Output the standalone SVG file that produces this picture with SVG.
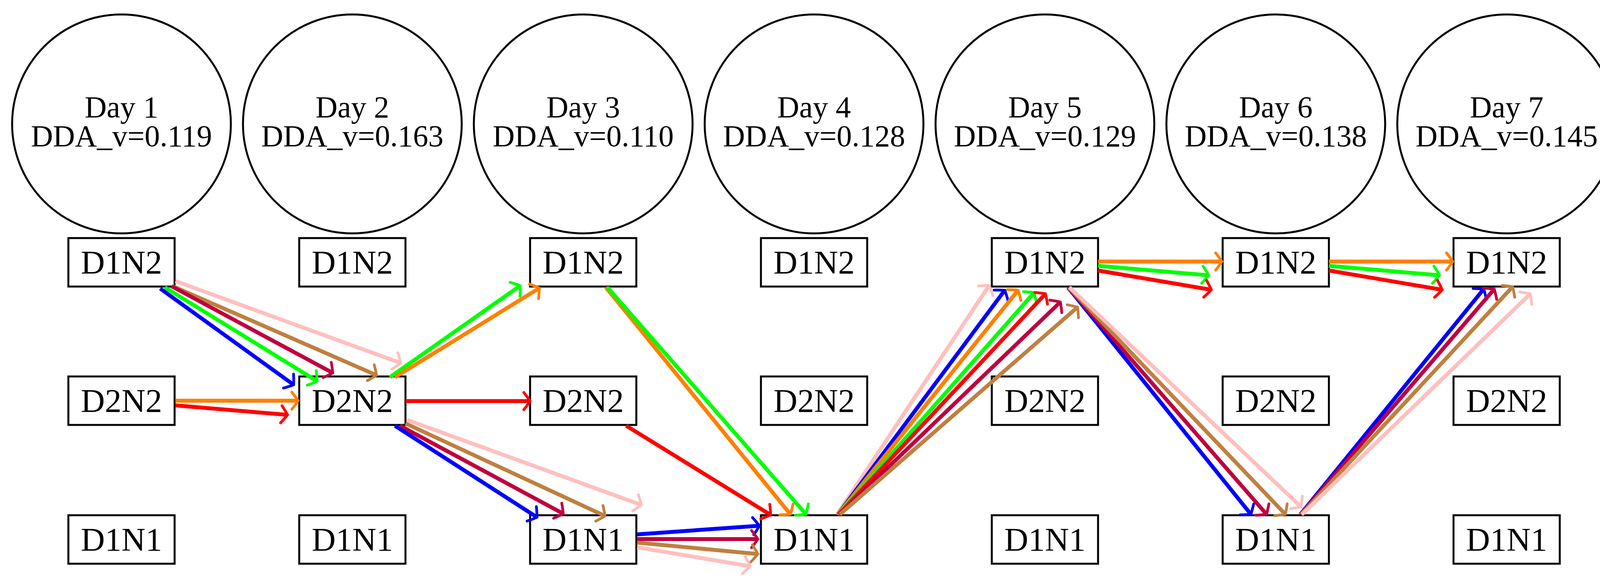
<svg xmlns="http://www.w3.org/2000/svg" width="4173" height="1499" viewBox="0 0 4173 1499">
<style>
.c{fill:#fff;stroke:#000;stroke-width:5}
.b{fill:#fff;stroke:#000;stroke-width:5}
.t{font-family:"Liberation Serif",serif;font-size:78px;text-anchor:middle;fill:#000}
.n{font-family:"Liberation Serif",serif;font-size:85px;text-anchor:middle;fill:#000}
#edges line{stroke-width:10;fill:none}
.mk{fill:none;stroke-width:7;stroke-linecap:round}
</style>
<defs>
<marker id="aBl" markerUnits="userSpaceOnUse" orient="auto" overflow="visible" markerWidth="40" markerHeight="50"><path class="mk" stroke="#0000ff" d="M-14,-22 Q-3,-8 2,0 Q-3,8 -14,22"/></marker>
<marker id="aGr" markerUnits="userSpaceOnUse" orient="auto" overflow="visible" markerWidth="40" markerHeight="50"><path class="mk" stroke="#00ff00" d="M-14,-22 Q-3,-8 2,0 Q-3,8 -14,22"/></marker>
<marker id="aOr" markerUnits="userSpaceOnUse" orient="auto" overflow="visible" markerWidth="40" markerHeight="50"><path class="mk" stroke="#ff8000" d="M-14,-22 Q-3,-8 2,0 Q-3,8 -14,22"/></marker>
<marker id="aRe" markerUnits="userSpaceOnUse" orient="auto" overflow="visible" markerWidth="40" markerHeight="50"><path class="mk" stroke="#ff0000" d="M-14,-22 Q-3,-8 2,0 Q-3,8 -14,22"/></marker>
<marker id="aPu" markerUnits="userSpaceOnUse" orient="auto" overflow="visible" markerWidth="40" markerHeight="50"><path class="mk" stroke="#bf0040" d="M-14,-22 Q-3,-8 2,0 Q-3,8 -14,22"/></marker>
<marker id="aBr" markerUnits="userSpaceOnUse" orient="auto" overflow="visible" markerWidth="40" markerHeight="50"><path class="mk" stroke="#bf8040" d="M-14,-22 Q-3,-8 2,0 Q-3,8 -14,22"/></marker>
<marker id="aPi" markerUnits="userSpaceOnUse" orient="auto" overflow="visible" markerWidth="40" markerHeight="50"><path class="mk" stroke="#ffbfbf" d="M-14,-22 Q-3,-8 2,0 Q-3,8 -14,22"/></marker>
</defs>
<rect width="4173" height="1499" fill="#fff"/>
<g id="days">
<g id="day1"><circle class="c" cx="311" cy="317" r="280"/><text class="t" x="311" y="300">Day 1</text><text class="t" x="311" y="374">DDA_v=0.119</text></g>
<g id="day2"><circle class="c" cx="902" cy="317" r="280"/><text class="t" x="902" y="300">Day 2</text><text class="t" x="902" y="374">DDA_v=0.163</text></g>
<g id="day3"><circle class="c" cx="1493" cy="317" r="280"/><text class="t" x="1493" y="300">Day 3</text><text class="t" x="1493" y="374">DDA_v=0.110</text></g>
<g id="day4"><circle class="c" cx="2084" cy="317" r="280"/><text class="t" x="2084" y="300">Day 4</text><text class="t" x="2084" y="374">DDA_v=0.128</text></g>
<g id="day5"><circle class="c" cx="2675" cy="317" r="280"/><text class="t" x="2675" y="300">Day 5</text><text class="t" x="2675" y="374">DDA_v=0.129</text></g>
<g id="day6"><circle class="c" cx="3266" cy="317" r="280"/><text class="t" x="3266" y="300">Day 6</text><text class="t" x="3266" y="374">DDA_v=0.138</text></g>
<g id="day7"><circle class="c" cx="3857" cy="317" r="280"/><text class="t" x="3857" y="300">Day 7</text><text class="t" x="3857" y="374">DDA_v=0.145</text></g>
</g>
<g id="nodes">
<g id="c1a"><rect class="b" x="175" y="609" width="272" height="124"/><text class="n" x="311" y="700">D1N2</text></g>
<g id="c1b"><rect class="b" x="175" y="963" width="272" height="124"/><text class="n" x="311" y="1054">D2N2</text></g>
<g id="c1c"><rect class="b" x="175" y="1318" width="272" height="124"/><text class="n" x="311" y="1409">D1N1</text></g>
<g id="c2a"><rect class="b" x="766" y="609" width="272" height="124"/><text class="n" x="902" y="700">D1N2</text></g>
<g id="c2b"><rect class="b" x="766" y="963" width="272" height="124"/><text class="n" x="902" y="1054">D2N2</text></g>
<g id="c2c"><rect class="b" x="766" y="1318" width="272" height="124"/><text class="n" x="902" y="1409">D1N1</text></g>
<g id="c3a"><rect class="b" x="1357" y="609" width="272" height="124"/><text class="n" x="1493" y="700">D1N2</text></g>
<g id="c3b"><rect class="b" x="1357" y="963" width="272" height="124"/><text class="n" x="1493" y="1054">D2N2</text></g>
<g id="c3c"><rect class="b" x="1357" y="1318" width="272" height="124"/><text class="n" x="1493" y="1409">D1N1</text></g>
<g id="c4a"><rect class="b" x="1948" y="609" width="272" height="124"/><text class="n" x="2084" y="700">D1N2</text></g>
<g id="c4b"><rect class="b" x="1948" y="963" width="272" height="124"/><text class="n" x="2084" y="1054">D2N2</text></g>
<g id="c4c"><rect class="b" x="1948" y="1318" width="272" height="124"/><text class="n" x="2084" y="1409">D1N1</text></g>
<g id="c5a"><rect class="b" x="2539" y="609" width="272" height="124"/><text class="n" x="2675" y="700">D1N2</text></g>
<g id="c5b"><rect class="b" x="2539" y="963" width="272" height="124"/><text class="n" x="2675" y="1054">D2N2</text></g>
<g id="c5c"><rect class="b" x="2539" y="1318" width="272" height="124"/><text class="n" x="2675" y="1409">D1N1</text></g>
<g id="c6a"><rect class="b" x="3130" y="609" width="272" height="124"/><text class="n" x="3266" y="700">D1N2</text></g>
<g id="c6b"><rect class="b" x="3130" y="963" width="272" height="124"/><text class="n" x="3266" y="1054">D2N2</text></g>
<g id="c6c"><rect class="b" x="3130" y="1318" width="272" height="124"/><text class="n" x="3266" y="1409">D1N1</text></g>
<g id="c7a"><rect class="b" x="3721" y="609" width="272" height="124"/><text class="n" x="3857" y="700">D1N2</text></g>
<g id="c7b"><rect class="b" x="3721" y="963" width="272" height="124"/><text class="n" x="3857" y="1054">D2N2</text></g>
<g id="c7c"><rect class="b" x="3721" y="1318" width="272" height="124"/><text class="n" x="3857" y="1409">D1N1</text></g>
</g>
<g id="edges">
<line x1="449" y1="719" x2="1024" y2="928" stroke="#ffbfbf" marker-end="url(#aPi)"/>
<line x1="442" y1="732" x2="962" y2="959" stroke="#bf8040" marker-end="url(#aBr)"/>
<line x1="439" y1="732" x2="850" y2="953" stroke="#bf0040" marker-end="url(#aPu)"/>
<line x1="422" y1="735" x2="810" y2="974" stroke="#00ff00" marker-end="url(#aGr)"/>
<line x1="410" y1="738" x2="750" y2="983" stroke="#0000ff" marker-end="url(#aBl)"/>
<line x1="449" y1="1025" x2="761" y2="1025" stroke="#ff8000" marker-end="url(#aOr)"/>
<line x1="449" y1="1037" x2="734" y2="1061" stroke="#ff0000" marker-end="url(#aRe)"/>
<line x1="998" y1="965" x2="1330" y2="732" stroke="#00ff00" marker-end="url(#aGr)"/>
<line x1="1011" y1="965" x2="1379" y2="738" stroke="#ff8000" marker-end="url(#aOr)"/>
<line x1="1038" y1="1026" x2="1355" y2="1026" stroke="#ff0000" marker-end="url(#aRe)"/>
<line x1="1042" y1="1074" x2="1640" y2="1291" stroke="#ffbfbf" marker-end="url(#aPi)"/>
<line x1="1038" y1="1083" x2="1547" y2="1319" stroke="#bf8040" marker-end="url(#aBr)"/>
<line x1="1024" y1="1089" x2="1440" y2="1313" stroke="#bf0040" marker-end="url(#aPu)"/>
<line x1="1011" y1="1089" x2="1373" y2="1322" stroke="#0000ff" marker-end="url(#aBl)"/>
<line x1="1551" y1="735" x2="2022" y2="1314" stroke="#ff8000" marker-end="url(#aOr)"/>
<line x1="1555" y1="735" x2="2062" y2="1314" stroke="#00ff00" marker-end="url(#aGr)"/>
<line x1="1603" y1="1089" x2="1971" y2="1316" stroke="#ff0000" marker-end="url(#aRe)"/>
<line x1="1631" y1="1367" x2="1942" y2="1345" stroke="#0000ff" marker-end="url(#aBl)"/>
<line x1="1631" y1="1379" x2="1938" y2="1379" stroke="#bf0040" marker-end="url(#aPu)"/>
<line x1="1631" y1="1388" x2="1938" y2="1417" stroke="#bf8040" marker-end="url(#aBr)"/>
<line x1="1631" y1="1400" x2="1918" y2="1448" stroke="#ffbfbf" marker-end="url(#aPi)"/>
<line x1="2143" y1="1316" x2="2531" y2="732" stroke="#ffbfbf" marker-end="url(#aPi)"/>
<line x1="2145" y1="1316" x2="2571" y2="744" stroke="#0000ff" marker-end="url(#aBl)"/>
<line x1="2145" y1="1316" x2="2605" y2="744" stroke="#ff8000" marker-end="url(#aOr)"/>
<line x1="2146" y1="1316" x2="2646" y2="750" stroke="#00ff00" marker-end="url(#aGr)"/>
<line x1="2147" y1="1316" x2="2675" y2="753" stroke="#ff0000" marker-end="url(#aRe)"/>
<line x1="2148" y1="1316" x2="2713" y2="774" stroke="#bf0040" marker-end="url(#aPu)"/>
<line x1="2150" y1="1316" x2="2757" y2="787" stroke="#bf8040" marker-end="url(#aBr)"/>
<line x1="2811" y1="669" x2="3126" y2="669" stroke="#ff8000" marker-end="url(#aOr)"/>
<line x1="2811" y1="680" x2="3092" y2="704" stroke="#00ff00" marker-end="url(#aGr)"/>
<line x1="2811" y1="692" x2="3099" y2="741" stroke="#ff0000" marker-end="url(#aRe)"/>
<line x1="3402" y1="669" x2="3717" y2="669" stroke="#ff8000" marker-end="url(#aOr)"/>
<line x1="3402" y1="680" x2="3683" y2="704" stroke="#00ff00" marker-end="url(#aGr)"/>
<line x1="3402" y1="692" x2="3690" y2="741" stroke="#ff0000" marker-end="url(#aRe)"/>
<line x1="2734" y1="735" x2="3201" y2="1314" stroke="#0000ff" marker-end="url(#aBl)"/>
<line x1="2735" y1="735" x2="3241" y2="1314" stroke="#bf0040" marker-end="url(#aPu)"/>
<line x1="2736" y1="735" x2="3289" y2="1314" stroke="#bf8040" marker-end="url(#aBr)"/>
<line x1="2738" y1="735" x2="3329" y2="1295" stroke="#ffbfbf" marker-end="url(#aPi)"/>
<line x1="3329" y1="1316" x2="3797" y2="741" stroke="#0000ff" marker-end="url(#aBl)"/>
<line x1="3330" y1="1316" x2="3824" y2="741" stroke="#bf0040" marker-end="url(#aPu)"/>
<line x1="3331" y1="1316" x2="3871" y2="735" stroke="#bf8040" marker-end="url(#aBr)"/>
<line x1="3333" y1="1316" x2="3916" y2="753" stroke="#ffbfbf" marker-end="url(#aPi)"/>
</g>
</svg>
